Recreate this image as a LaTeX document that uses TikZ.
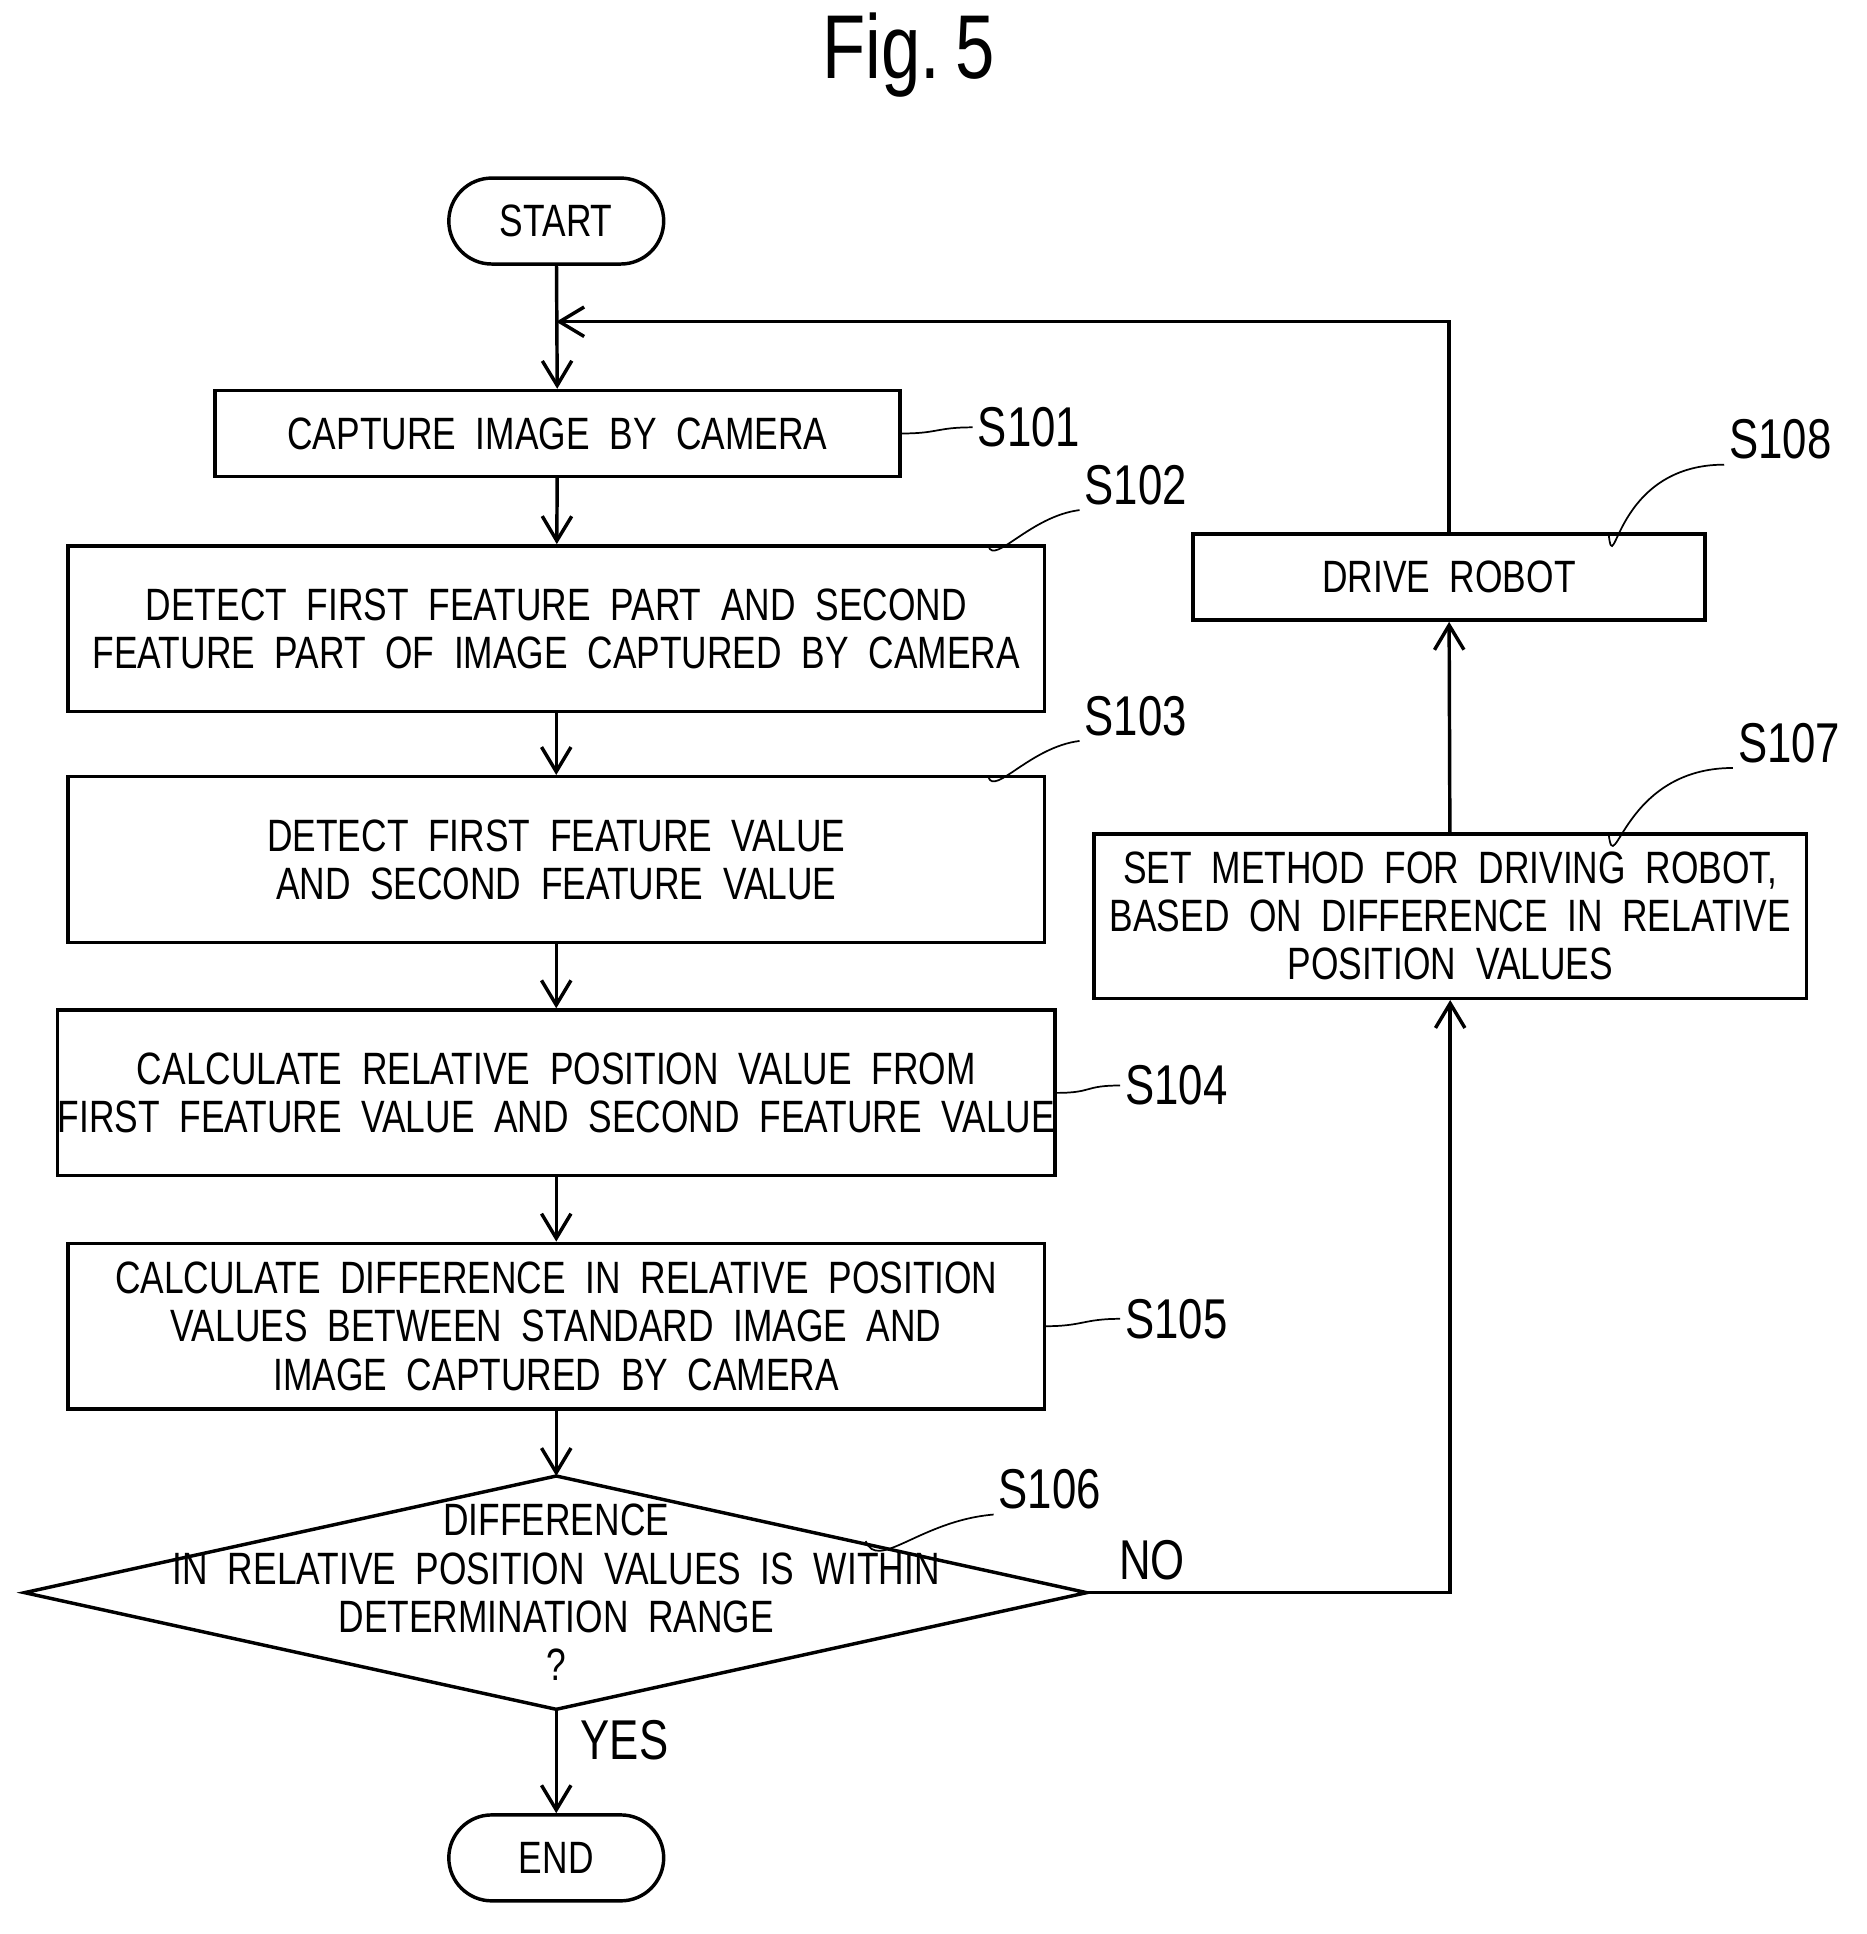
\documentclass[tikz,border=0pt]{standalone}
\usepackage{fontspec}
\setmainfont{Liberation Sans}[FakeStretch=0.78, WordSpace=2]
\usetikzlibrary{arrows.meta,positioning,calc}

\tikzset{
  box/.style={draw, thick, align=center, inner sep=0pt, font=\fontsize{10.5}{11.2}\selectfont},
  term/.style={box, rounded corners=0.35cm, minimum width=1.75cm, minimum height=0.7cm},
  flow/.style={thick, -{Straight Barb[length=2mm,width=2.4mm]}},
  lead/.style={thin},
  lbl/.style={font=\fontsize{13}{14}\selectfont, inner sep=1pt}
}

\begin{document}
\begin{tikzpicture}
\useasboundingbox (0,0) rectangle (15.2,-15.75);

\node[font=\fontsize{21}{22}\selectfont] at (7.4,-0.45) {Fig.\,5};

% main column
\node[term] (start) at (4.53,-1.8) {START};
\node[box, minimum width=5.58cm, minimum height=0.7cm] (s101) at (4.54,-3.53) {CAPTURE IMAGE BY CAMERA};
\node[box, minimum width=7.95cm, minimum height=1.35cm] (s102) at (4.53,-5.12) {DETECT FIRST FEATURE PART AND SECOND\\FEATURE PART OF IMAGE CAPTURED BY CAMERA};
\node[box, minimum width=7.95cm, minimum height=1.35cm] (s103) at (4.53,-7.0) {DETECT FIRST FEATURE VALUE\\AND SECOND FEATURE VALUE};
\node[box, minimum width=7.95cm, minimum height=1.35cm] (s104) at (4.53,-8.9) {CALCULATE RELATIVE POSITION VALUE FROM\\FIRST FEATURE VALUE AND SECOND FEATURE VALUE};
\node[box, minimum width=7.95cm, minimum height=1.35cm] (s105) at (4.53,-10.8) {CALCULATE DIFFERENCE IN RELATIVE POSITION\\VALUES BETWEEN STANDARD IMAGE AND\\IMAGE CAPTURED BY CAMERA};

% decision
\coordinate (dn) at (4.53,-12.02);
\coordinate (ds) at (4.53,-13.92);
\coordinate (dw) at (0.2,-12.97);
\coordinate (de) at (8.85,-12.97);
\draw[thick] (dn) -- (de) -- (ds) -- (dw) -- cycle;
\node[box, draw=none] (s106) at (4.53,-12.97) {DIFFERENCE\\IN RELATIVE POSITION VALUES IS WITHIN\\DETERMINATION RANGE\\?};
\node[term] (end) at (4.53,-15.13) {END};

% right column
\node[box, minimum width=5.8cm, minimum height=1.34cm] (s107) at (11.81,-7.46) {SET METHOD FOR DRIVING ROBOT,\\BASED ON DIFFERENCE IN RELATIVE\\POSITION VALUES};
\node[box, minimum width=4.17cm, minimum height=0.7cm] (s108) at (11.8,-4.7) {DRIVE ROBOT};

% connectors
\draw[flow] (start) -- (s101);
\draw[flow] (s101) -- (s102);
\draw[flow] (s102) -- (s103);
\draw[flow] (s103) -- (s104);
\draw[flow] (s104) -- (s105);
\draw[flow] (s105) -- (dn);
\draw[flow] (ds) -- (end) node[lbl, pos=0.3, right=0.15cm] {YES};
\draw[flow] (de) -- node[lbl, above=0.05cm, pos=0.18] {NO} (de -| s107) -- (s107);
\draw[flow] (s107) -- (s108);
\coordinate (loop) at (4.53,-2.62);
\draw[flow] (s108.north) |- (loop);

% step labels
\node[lbl] (l101) at (8.38,-3.48) {S101};
\node[lbl] (l102) at (9.25,-3.95) {S102};
\node[lbl] (l103) at (9.25,-5.83) {S103};
\node[lbl] (l104) at (9.58,-8.84) {S104};
\node[lbl] (l105) at (9.58,-10.74) {S105};
\node[lbl] (l106) at (8.55,-12.13) {S106};
\node[lbl] (l107) at (14.57,-6.05) {S107};
\node[lbl] (l108) at (14.5,-3.58) {S108};

\draw[lead] (s101.east) .. controls +(0.3,0) and +(-0.3,0) .. (l101.west);
\draw[lead] (8.05,-4.45) .. controls +(0.05,-0.15) and +(-0.4,-0.05) .. (l102.south west);
\draw[lead] (8.05,-6.33) .. controls +(0.05,-0.15) and +(-0.4,-0.05) .. (l103.south west);
\draw[lead] (s104.east) .. controls +(0.3,0) and +(-0.3,0) .. (l104.west);
\draw[lead] (s105.east) .. controls +(0.3,0) and +(-0.3,0) .. (l105.west);
\draw[lead] (7.05,-12.55) .. controls +(0.1,-0.25) and +(-0.6,-0.05) .. (l106.south west);
\draw[lead] (13.1,-6.79) .. controls +(0.05,-0.4) and +(-0.9,0) .. (l107.south west);
\draw[lead] (13.1,-4.35) .. controls +(0.05,-0.4) and +(-0.9,0) .. (l108.south west);
\end{tikzpicture}
\end{document}
